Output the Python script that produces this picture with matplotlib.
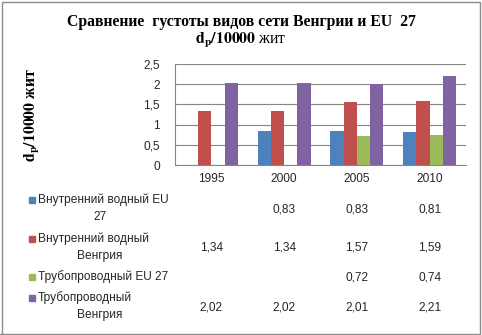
import numpy as np
import matplotlib.pyplot as plt
from matplotlib.patches import Rectangle
from matplotlib.lines import Line2D
from matplotlib.transforms import blended_transform_factory

plt.rcParams['mathtext.fontset'] = 'stix'

years = ['1995', '2000', '2005', '2010']
inland_eu = [np.nan, 0.83, 0.83, 0.81]
inland_hu = [1.34, 1.34, 1.57, 1.59]
pipe_eu = [np.nan, np.nan, 0.72, 0.74]
pipe_hu = [2.02, 2.02, 2.01, 2.21]
series = [inland_eu, inland_hu, pipe_eu, pipe_hu]
labels = ['Внутренний водный EU\n27', 'Внутренний водный\nВенгрия',
          'Трубопроводный EU 27', 'Трубопроводный\nВенгрия']
colors = ['#4F81BD', '#C0504D', '#9BBB59', '#8064A2']
y_ticks = [0, 0.5, 1, 1.5, 2, 2.5]

W, H = 482, 335
fig = plt.figure(figsize=(W / 100, H / 100), dpi=100)


def fx(px):
    return px / W


def fy(py):
    return 1 - py / H


grid_c = '#868686'
text_c = '#262626'
sans = ['Liberation Sans', 'DejaVu Sans']
serif = ['Liberation Serif', 'DejaVu Serif']
fs = 8.6

# outer frame
fig.patches.append(Rectangle((fx(1.5), fy(333.5)), fx(478), 1 - fy(332), transform=fig.transFigure,
                             fill=False, edgecolor='#8c8c8c', lw=1))

ax = fig.add_axes([fx(175), fy(165), fx(291), fy(64) - fy(165)])
x = np.arange(len(years))
w = 1 / 5.5
for k, (vals, c) in enumerate(zip(series, colors)):
    ax.bar(x + (k - 1.5) * w, vals, w, color=c, zorder=3)

ax.set_xlim(-0.5, len(years) - 0.5)
ax.set_ylim(0, 2.5)
ax.set_yticks(y_ticks)
ax.set_yticklabels([f'{t:g}'.replace('.', ',') for t in y_ticks], family=sans, fontsize=fs, color=text_c)
ax.set_xticks([])
ax.yaxis.grid(True, color=grid_c, lw=0.8)
ax.tick_params(axis='y', length=0, pad=11)
for s in ['top', 'right']:
    ax.spines[s].set_visible(False)
ax.spines['left'].set_color(grid_c)
ax.spines['bottom'].set_color(grid_c)

# titles
fig.text(0.5, fy(22), 'Сравнение  густоты видов сети Венгрии и EU  27', ha='center', va='center',
         family=serif, fontsize=11.3, fontweight='bold')
fig.text(0.5, fy(40), r'$\mathbf{d_p/10000}$ жит', ha='center', va='center',
         family=serif, fontsize=11.3)
fig.text(fx(32), fy(115), r'$\mathbf{d_p/10000}$ жит', ha='center', va='center', rotation=90,
         family=serif, fontsize=11.3, fontweight='bold')

# data table
tr = blended_transform_factory(ax.transData, fig.transFigure)
for i, yr in enumerate(years):
    fig.text(i, fy(179), yr, transform=tr, ha='center', va='center', family=sans, fontsize=fs, color=text_c)

row_y = [209, 248, 277, 307]
for vals, c, lab, ry in zip(series, colors, labels, row_y):
    for i, v in enumerate(vals):
        if not np.isnan(v):
            fig.text(i, fy(ry), f'{v:.2f}'.replace('.', ','), transform=tr, ha='center', va='center',
                     family=sans, fontsize=fs, color=text_c)
    lines = lab.split('\n')
    if len(lines) == 1:
        ly = [ry]
    else:
        ly = [ry - 9, ry + 8]
    fig.patches.append(Rectangle((fx(29), fy(ly[0] + 3)), fx(6), fy(ly[0] - 3) - fy(ly[0] + 3),
                                 transform=fig.transFigure, color=c))
    fig.text(fx(38), fy(ly[0]), lines[0], ha='left', va='center', family=sans, fontsize=fs, color=text_c)
    if len(lines) > 1:
        fig.text(fx(100), fy(ly[1]), lines[1], ha='center', va='center', family=sans, fontsize=fs, color=text_c)

# table lines
fig.lines.append(Line2D([fx(175), fx(175)], [fy(165), fy(328)], color=grid_c, lw=0.8))
fig.lines.append(Line2D([fx(248), fx(248)], [fy(165), fy(195)], color=grid_c, lw=0.8))
fig.lines.append(Line2D([fx(24), fx(466)], [fy(267), fy(267)], color=grid_c, lw=0.8))
fig.lines.append(Line2D([fx(24), fx(466)], [fy(328), fy(328)], color=grid_c, lw=0.8))

fig.savefig('out.png', dpi=100)
